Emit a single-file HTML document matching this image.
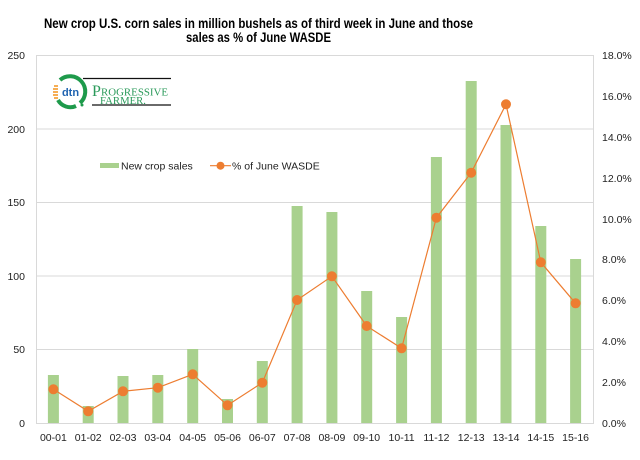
<!DOCTYPE html>
<html><head><meta charset="utf-8"><style>
html,body{margin:0;padding:0;background:#fff;}
svg{display:block;}
text{font-family:"Liberation Sans",Arial,sans-serif;}
</style></head><body>
<svg width="640" height="460" viewBox="0 0 640 460" xmlns="http://www.w3.org/2000/svg">
<rect width="640" height="460" fill="#fff"/>
<!-- title -->
<text x="258.5" y="28" font-size="14" font-weight="bold" fill="#000" text-anchor="middle" textLength="429" lengthAdjust="spacingAndGlyphs">New crop U.S. corn sales in million bushels as of third week in June and those</text>
<text x="258.5" y="42" font-size="14" font-weight="bold" fill="#000" text-anchor="middle" textLength="145" lengthAdjust="spacingAndGlyphs">sales as %  of June WASDE</text>
<!-- gridlines -->
<g stroke="#D9D9D9" stroke-width="1">
<line x1="36" y1="55.5" x2="593" y2="55.5"/>
<line x1="36" y1="129" x2="593" y2="129"/>
<line x1="36" y1="202.5" x2="593" y2="202.5"/>
<line x1="36" y1="276" x2="593" y2="276"/>
<line x1="36" y1="349.5" x2="593" y2="349.5"/>
<line x1="36" y1="423.5" x2="593" y2="423.5"/>
<line x1="36.5" y1="55" x2="36.5" y2="424"/>
<line x1="593.5" y1="55" x2="593.5" y2="424"/>
</g>
<!-- left axis labels -->
<g font-size="10.5" fill="#222" text-anchor="end">
<text x="25" y="59">250</text>
<text x="25" y="133">200</text>
<text x="25" y="206">150</text>
<text x="25" y="280">100</text>
<text x="25" y="353">50</text>
<text x="25" y="427">0</text>
</g>
<!-- right axis labels -->
<g font-size="10.5" fill="#222" text-anchor="start">
<text x="602" y="59">18.0%</text>
<text x="602" y="100">16.0%</text>
<text x="602" y="141">14.0%</text>
<text x="602" y="182">12.0%</text>
<text x="602" y="223">10.0%</text>
<text x="602" y="263">8.0%</text>
<text x="602" y="304">6.0%</text>
<text x="602" y="345">4.0%</text>
<text x="602" y="386">2.0%</text>
<text x="602" y="427">0.0%</text>
</g>
<!-- bars -->
<g fill="#A9D18E">
<rect x="47.9" y="375" width="11" height="48"/>
<rect x="82.7" y="406" width="11" height="17"/>
<rect x="117.5" y="376" width="11" height="47"/>
<rect x="152.3" y="375" width="11" height="48"/>
<rect x="187.2" y="349" width="11" height="74"/>
<rect x="222" y="399" width="11" height="24"/>
<rect x="256.8" y="361" width="11" height="62"/>
<rect x="291.6" y="206" width="11" height="217"/>
<rect x="326.4" y="212" width="11" height="211"/>
<rect x="361.2" y="291" width="11" height="132"/>
<rect x="396.1" y="317" width="11" height="106"/>
<rect x="430.9" y="157" width="11" height="266"/>
<rect x="465.7" y="81" width="11" height="342"/>
<rect x="500.5" y="125" width="11" height="298"/>
<rect x="535.3" y="226" width="11" height="197"/>
<rect x="570.1" y="259" width="11" height="164"/>
</g>
<!-- line -->
<polyline fill="none" stroke="#ED7D31" stroke-width="1.2" points="53.4,389.3 88.2,411.3 123,391.3 157.8,387.7 192.7,374.3 227.5,405.3 262.3,382.7 297.1,300 331.9,276.3 366.7,326 401.6,348.3 436.4,217.7 471.2,172.7 506,104.3 540.8,262.3 575.6,303.3"/>
<g fill="#ED7D31">
<circle cx="53.4" cy="389.3" r="5"/>
<circle cx="88.2" cy="411.3" r="5"/>
<circle cx="123" cy="391.3" r="5"/>
<circle cx="157.8" cy="387.7" r="5"/>
<circle cx="192.7" cy="374.3" r="5"/>
<circle cx="227.5" cy="405.3" r="5"/>
<circle cx="262.3" cy="382.7" r="5"/>
<circle cx="297.1" cy="300" r="5"/>
<circle cx="331.9" cy="276.3" r="5"/>
<circle cx="366.7" cy="326" r="5"/>
<circle cx="401.6" cy="348.3" r="5"/>
<circle cx="436.4" cy="217.7" r="5"/>
<circle cx="471.2" cy="172.7" r="5"/>
<circle cx="506" cy="104.3" r="5"/>
<circle cx="540.8" cy="262.3" r="5"/>
<circle cx="575.6" cy="303.3" r="5"/>
</g>
<!-- x labels -->
<g font-size="10.5" fill="#222" text-anchor="middle">
<text x="53.4" y="441">00-01</text>
<text x="88.2" y="441">01-02</text>
<text x="123" y="441">02-03</text>
<text x="157.8" y="441">03-04</text>
<text x="192.7" y="441">04-05</text>
<text x="227.5" y="441">05-06</text>
<text x="262.3" y="441">06-07</text>
<text x="297.1" y="441">07-08</text>
<text x="331.9" y="441">08-09</text>
<text x="366.7" y="441">09-10</text>
<text x="401.6" y="441">10-11</text>
<text x="436.4" y="441">11-12</text>
<text x="471.2" y="441">12-13</text>
<text x="506" y="441">13-14</text>
<text x="540.8" y="441">14-15</text>
<text x="575.6" y="441">15-16</text>
</g>
<!-- legend -->
<rect x="100" y="163" width="19" height="5" fill="#A9D18E"/>
<text x="121" y="169.5" font-size="10.5" fill="#222">New crop sales</text>
<line x1="210" y1="165.7" x2="231" y2="165.7" stroke="#ED7D31" stroke-width="1.2"/>
<circle cx="220.5" cy="165.7" r="4" fill="#ED7D31"/>
<text x="232" y="169.5" font-size="10.5" fill="#222">% of June WASDE</text>
<!-- logo -->
<g>
<line x1="83" y1="78.5" x2="171" y2="78.5" stroke="#111" stroke-width="1.3"/>
<line x1="92" y1="105" x2="171" y2="105" stroke="#111" stroke-width="1.3"/>
<path d="M 60 80 A 14 14 0 1 1 80 103" fill="none" stroke="#1E9A4B" stroke-width="4"/>
<path d="M 58 100 A 14 14 0 0 0 76 106" fill="none" stroke="#1E9A4B" stroke-width="4"/>
<g stroke="#F39A2B" stroke-width="1.6">
<line x1="54" y1="86" x2="58" y2="86"/>
<line x1="53" y1="89" x2="58" y2="89"/>
<line x1="53" y1="92" x2="58" y2="92"/>
<line x1="53" y1="95" x2="58" y2="95"/>
<line x1="54" y1="98" x2="58" y2="98"/>
</g>
<text x="70.5" y="96" font-size="11" font-weight="bold" fill="#1F63B0" text-anchor="middle">dtn</text>
<circle cx="82" cy="105" r="1.5" fill="#1E9A4B"/>
<text x="92" y="96" style="font-family:'Liberation Serif',serif" font-size="16" fill="#2A9A5A">P</text>
<text x="101" y="95.5" style="font-family:'Liberation Serif',serif" font-size="10.5" fill="#2A9A5A" textLength="67" lengthAdjust="spacingAndGlyphs">ROGRESSIVE</text>
<text x="100" y="104" style="font-family:'Liberation Serif',serif" font-size="10" fill="#2A9A5A" textLength="46" lengthAdjust="spacingAndGlyphs">FARMER.</text>
</g>
</svg>
</body></html>
